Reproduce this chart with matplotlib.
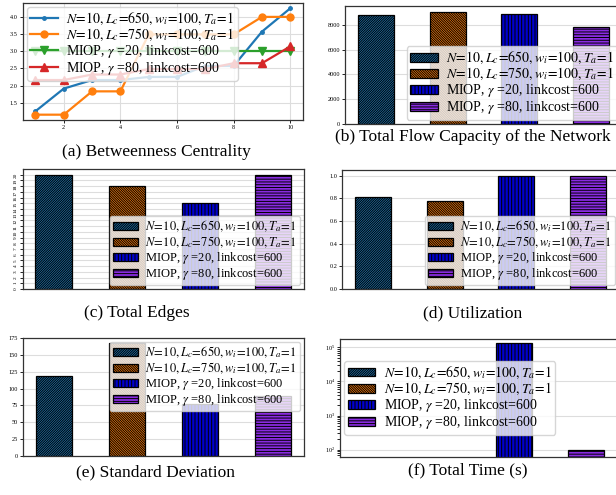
import numpy as np
import matplotlib
matplotlib.use("Agg")
import matplotlib.pyplot as plt

plt.rcParams["font.family"] = ["Liberation Serif", "DejaVu Serif"]
plt.rcParams["mathtext.fontset"] = "stix"
plt.rcParams["hatch.linewidth"] = 0.7

# --- data -------------------------------------------------------------------
labels = [
    r"$N\!=\!10,L_c\!=\!650,w_i\!=\!100,T_a\!=\!1$",
    r"$N\!=\!10,L_c\!=\!750,w_i\!=\!100,T_a\!=\!1$",
    r"MIOP, $\gamma$ =20, linkcost=600",
    r"MIOP, $\gamma$ =80, linkcost=600",
]

nodes = [1, 2, 3, 4, 5, 6, 7, 8, 9, 10]
bc_650 = [1.25, 1.91, 2.16, 2.16, 2.25, 2.25, 2.57, 2.57, 3.57, 4.25]
bc_750 = [1.15, 1.15, 1.83, 1.83, 3.49, 3.49, 3.49, 3.49, 4.0, 4.0]
bc_g20 = [3.0, 3.0, 3.0, 3.0, 3.0, 3.0, 3.0, 3.0, 3.0, 3.0]
bc_g80 = [2.16, 2.16, 2.32, 2.32, 2.48, 2.48, 2.48, 2.65, 2.65, 3.14]

flow_capacity = [8780, 9080, 8890, 7840]
total_edges = [20, 18, 15, 20]
utilization = [0.81, 0.776, 1.0, 1.0]
std_dev = [118, 168, 77.5, 89]
total_time = [0, 0, 131000, 95]

captions = [
    "(a) Betweenness Centrality",
    "(b) Total Flow Capacity of the Network",
    "(c) Total Edges",
    "(d) Utilization",
    "(e) Standard Deviation",
    "(f) Total Time (s)",
]

# --- styles -----------------------------------------------------------------
bar_colors = ["#1f77b4", "#ff7f0e", "#0000cd", "#8a2be2"]
bar_hatches = ["/" * 14, "\\" * 14, "|" * 5, "-" * 6]
line_colors = ["tab:blue", "tab:orange", "tab:green", "tab:red"]
line_markers = [".", "o", "v", "^"]
line_ms = [5, 5, 6, 6]

W, H = 616, 495
fig = plt.figure(figsize=(W / 100, H / 100), dpi=100)


def px_axes(left, top, right, bottom):
    return fig.add_axes([left / W, 1 - bottom / H, (right - left) / W, (bottom - top) / H])


def style(ax):
    ax.grid(True, color="#dddddd", linewidth=0.8)
    ax.set_axisbelow(True)
    ax.tick_params(labelsize=4.5, length=2, width=0.6, pad=1.5)
    for s in ax.spines.values():
        s.set_linewidth(0.9)
        s.set_color("#333333")


leg_kw = dict(labelspacing=0.0, handleheight=0.6,
              handlelength=2.0, borderpad=0.25, handletextpad=0.6,
              borderaxespad=0.3, framealpha=0.8)


def bars(ax, values, loc, fs):
    x = np.arange(len(values))
    for i, v in enumerate(values):
        ax.bar(x[i], v, width=0.5, color=bar_colors[i], hatch=bar_hatches[i],
               edgecolor="black", linewidth=0.9, label=labels[i])
    ax.set_xticks([])
    style(ax)
    ax.legend(loc=loc, fontsize=fs, **leg_kw)


# (a) betweenness centrality
ax = px_axes(22.7, 3, 303, 120)
for i, ys in enumerate([bc_650, bc_750, bc_g20, bc_g80]):
    ax.plot(nodes, ys, color=line_colors[i], marker=line_markers[i],
            markersize=line_ms[i], linewidth=1.6, label=labels[i])
ax.set_xticks([2, 4, 6, 8, 10])
ax.set_yticks([1.5, 2.0, 2.5, 3.0, 3.5, 4.0])
style(ax)
ax.legend(loc="upper left", fontsize=10, **leg_kw)

# (b) total flow capacity
ax = px_axes(345, 6, 622, 124)
bars(ax, flow_capacity, "lower right", 10)
ax.set_yticks([0, 2000, 4000, 6000, 8000])

# (c) total edges
ax = px_axes(22.7, 169, 304, 289)
bars(ax, total_edges, "lower right", 9)
ax.set_yticks(range(0, 21))
ax.tick_params(axis="y", labelsize=3.8, labelrotation=90)

# (d) utilization
ax = px_axes(342, 170, 619, 289)
bars(ax, utilization, "lower right", 9)
ax.set_yticks([0.0, 0.2, 0.4, 0.6, 0.8, 1.0])

# (e) standard deviation
ax = px_axes(23, 338, 304, 456)
bars(ax, std_dev, "upper right", 9)
ax.set_yticks(range(0, 176, 25))
ax.set_ylim(0, 175)

# (f) total time
ax = px_axes(340, 339, 617, 457)
ax.set_yscale("log")
bars(ax, total_time, "center left", 10)
ax.set_ylim(61, 10 ** 5.243)

# captions
cap_pos = [(156, 152), (473, 137), (137, 313), (473, 313), (156, 472), (468, 470)]
for text, (cx, cy) in zip(captions, cap_pos):
    fig.text(cx / W, 1 - cy / H, text, fontsize=12.5, ha="center", va="center")

fig.savefig("out.png", dpi=100)
